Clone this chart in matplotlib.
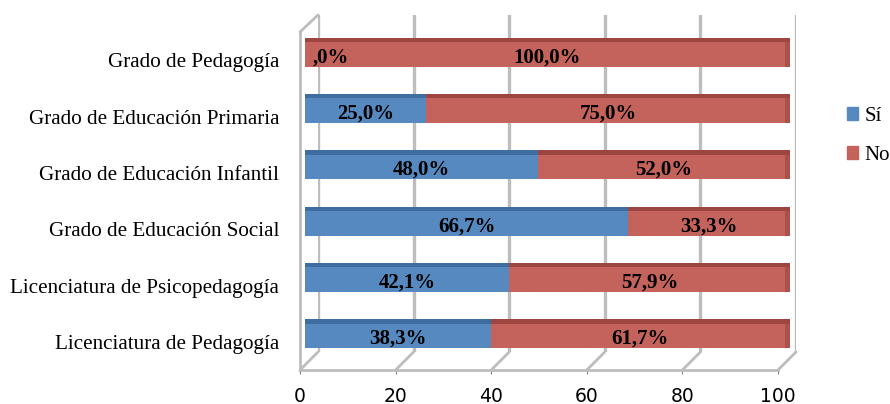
import matplotlib.pyplot as plt
from matplotlib.patches import ConnectionPatch, Patch

# datos
categorias = ['Licenciatura de Pedagogía', 'Licenciatura de Psicopedagogía',
              'Grado de Educación Social', 'Grado de Educación Infantil',
              'Grado de Educación Primaria', 'Grado de Pedagogía']
si = [38.3, 42.1, 66.7, 48.0, 25.0, 0.0]
no = [61.7, 57.9, 33.3, 52.0, 75.0, 100.0]
ticks = [0, 20, 40, 60, 80, 100]

azul, azul_os = '#5689c0', '#3f6d9f'
rojo, rojo_os = '#c4625c', '#9c4541'
gris = '#bdbdbd'
serif = 'Liberation Serif'

W, H = 890, 404


def px(l, t, r, b):
    # rect en pixeles (desde arriba) -> fracciones de la figura
    return [l / W, 1 - b / H, (r - l) / W, (b - t) / H]


fig = plt.figure(figsize=(W / 100, H / 100), dpi=100)

# pared del fondo con las lineas de division
back = fig.add_axes(px(318, 15, 796, 352))
back.set_xlim(0, 100)
back.set_ylim(0, 1)
back.set_xticks(ticks)
back.set_yticks([])
back.grid(axis='x', color=gris, lw=2.4)
back.tick_params(axis='x', length=0, labelbottom=False)
for s in back.spines.values():
    s.set_visible(False)

# barras
ax = fig.add_axes(px(305, 24, 790, 362))
ax.patch.set_alpha(0)
y = list(range(len(categorias)))
ax.barh(y, si, height=0.52, color=azul, zorder=2)
ax.barh(y, no, left=si, height=0.52, color=rojo, zorder=2)
# cara superior y extremo derecho (efecto 3D)
ax.barh([v + 0.22 for v in y], si, height=0.08, color=azul_os, zorder=3)
ax.barh([v + 0.22 for v in y], no, left=si, height=0.08, color=rojo_os, zorder=3)
ax.barh(y, 1.0, left=[a + b - 1.0 for a, b in zip(si, no)], height=0.52,
        color=rojo_os, alpha=0.6, zorder=3)
ax.set_xlim(0, 100)
ax.set_ylim(-0.5, len(categorias) - 0.5)
ax.axis('off')


def etiqueta(v):
    s = f'{v:.1f}%'.replace('.', ',')
    return s[1:] if v == 0 else s


for i in y:
    if si[i] == 0:
        ax.text(1.5, i - 0.09, etiqueta(si[i]), ha='left', va='center',
                fontsize=15, fontweight='bold', family=serif, zorder=4)
    else:
        ax.text(si[i] / 2, i - 0.09, etiqueta(si[i]), ha='center', va='center',
                fontsize=15, fontweight='bold', family=serif, zorder=4)
    ax.text(si[i] + no[i] / 2, i - 0.09, etiqueta(no[i]), ha='center', va='center',
            fontsize=15, fontweight='bold', family=serif, zorder=4)

# ejes del frente
front = fig.add_axes(px(300, 32, 778, 370))
front.patch.set_alpha(0)
front.set_xlim(0, 100)
front.set_ylim(-0.5, len(categorias) - 0.5)
front.set_xticks(ticks)
front.set_yticks(y)
front.set_yticklabels(categorias, family=serif, fontsize=15.2)
front.tick_params(axis='y', length=0, pad=15)
front.tick_params(axis='x', length=3, color='#808080', pad=9, labelsize=13.5)
for k in ['top', 'right']:
    front.spines[k].set_visible(False)
for k in ['left', 'bottom']:
    front.spines[k].set_color(gris)
    front.spines[k].set_linewidth(2)

# diagonales del suelo y de la pared lateral
for v in ticks:
    con = ConnectionPatch(xyA=(v, 0), coordsA=front.get_xaxis_transform(),
                          xyB=(v, 0), coordsB=back.get_xaxis_transform(),
                          color=gris, lw=2)
    fig.add_artist(con)
con = ConnectionPatch(xyA=(0, 1), coordsA=front.get_xaxis_transform(),
                      xyB=(0, 1), coordsB=back.get_xaxis_transform(),
                      color=gris, lw=2)
fig.add_artist(con)

fig.legend(handles=[Patch(color=azul, label='Sí'), Patch(color=rojo, label='No')],
           loc='center left', bbox_to_anchor=(847 / W, 1 - 136 / H), frameon=False,
           borderpad=0, borderaxespad=0,
           handlelength=0.55, handleheight=0.55, handletextpad=0.3, labelspacing=0.95,
           prop={'family': serif, 'size': 15})

fig.savefig('out.png', dpi=100)
